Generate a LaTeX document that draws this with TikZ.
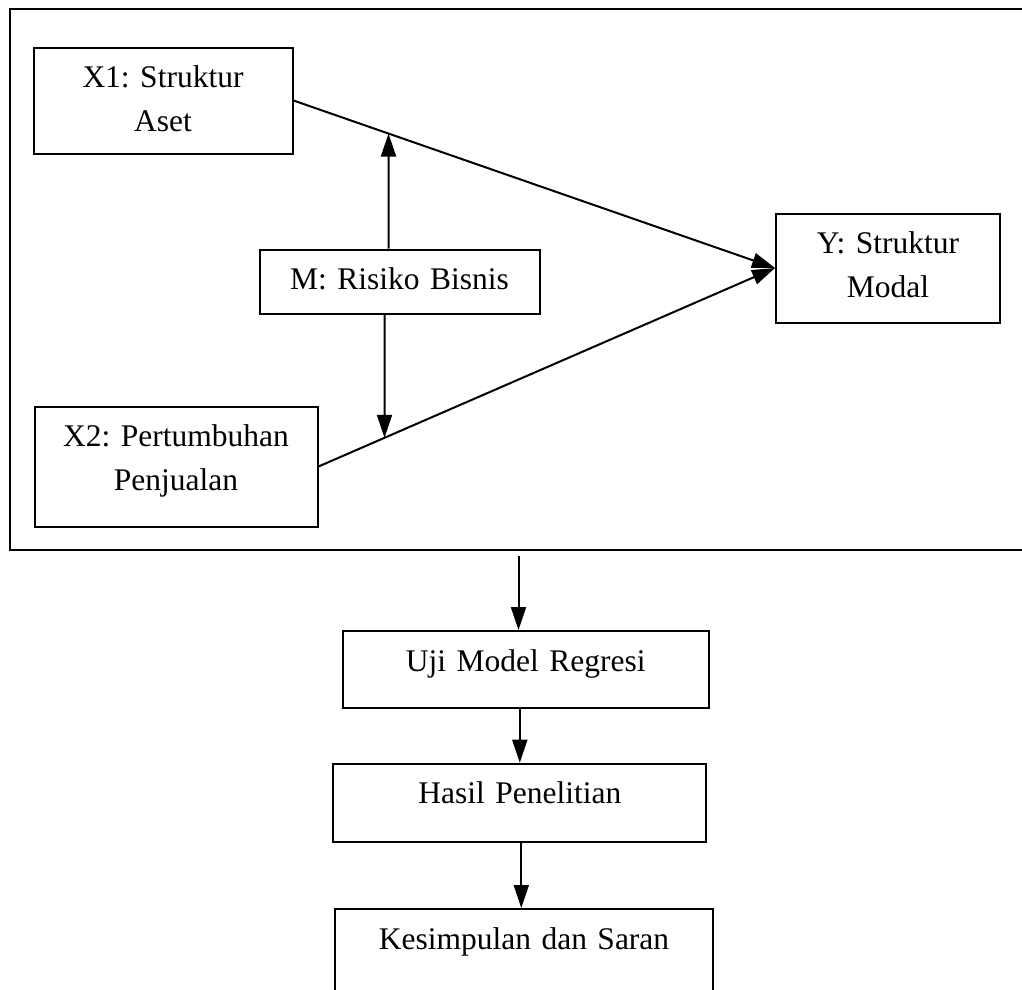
\documentclass[tikz,border=0pt]{standalone}
\usepackage{fontspec}
\setmainfont{Liberation Serif}
\frenchspacing
\usetikzlibrary{arrows.meta,calc,intersections,positioning}

\begin{document}
\begin{tikzpicture}[x=1pt,y=-1pt,
  kotak/.style={draw,line width=2pt,inner sep=0pt,align=center,anchor=north west,
    text height=40pt,font=\fontsize{31.5}{44}\selectfont\frenchspacing},
  panah/.style={line width=2pt,-{Triangle[length=23pt,width=15pt]}}]
  \useasboundingbox (0,0) rectangle (1022,989);
  \clip (0,0) rectangle (1022,989);

  % Model penelitian
  \draw[line width=2.5pt] (1030,9) -- (10,9) -- (10,550) -- (1030,550);
  \node[kotak,text width=259pt,text depth=66pt] (x1) at (32.5,46.5) {X1: Struktur\\Aset};
  \node[kotak,text width=224pt,text depth=69pt] (y) at (775,212.5) {Y: Struktur\\Modal};
  \node[kotak,text width=280pt,text depth=24pt] (m) at (258.5,248.5) {M: Risiko Bisnis};
  \node[kotak,text width=283pt,text depth=80pt] (x2) at (33.5,405.5) {X2: Pertumbuhan\\Penjualan};
  \draw[panah,name path=garis1] (x1.east) -- (y.west);
  \draw[panah,name path=garis2] (x2.east) -- (y.west);

  % Moderasi
  \coordinate (mup) at ([xshift=-11pt]m.north);
  \coordinate (mdown) at ([xshift=-15pt]m.south);
  \path[name path=naik] (mup) -- +(0,-200);
  \path[name path=turun] (mdown) -- +(0,200);
  \draw[panah,name intersections={of=garis1 and naik,by=p1}] (mup) -- (p1);
  \draw[panah,name intersections={of=garis2 and turun,by=p2}] (mdown) -- (p2);

  % Alur
  \node[kotak,text width=366pt,text depth=37pt] (uji) at (341.7,630) {Uji Model Regresi};
  \node[kotak,text width=373pt,text depth=38pt] (hasil) at (332.3,762.7) {Hasil Penelitian};
  \node[kotak,text width=378pt,text depth=100pt] (simpul) at (334,908) {Kesimpulan dan Saran};
  \coordinate (bawah) at (518.5,556);
  \draw[panah] (bawah) -- (bawah |- uji.north);
  \draw[panah] (hasil.north |- uji.south) -- (hasil.north);
  \draw[panah] ([xshift=1.5pt]hasil.south) -- ([xshift=1.5pt]hasil.south |- simpul.north);
\end{tikzpicture}
\end{document}
